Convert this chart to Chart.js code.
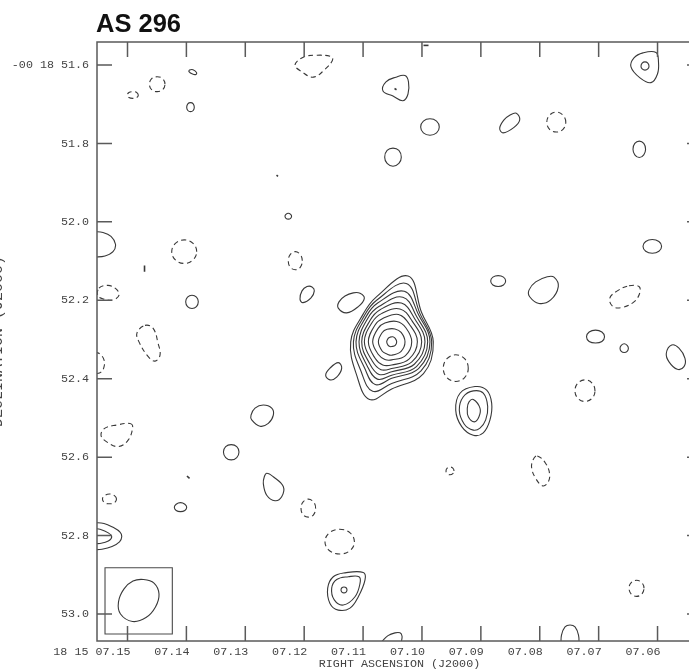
<!DOCTYPE html>
<html><head><meta charset="utf-8">
<script src="https://cdn.jsdelivr.net/npm/chart.js@4/dist/chart.umd.min.js"></script>
<style>html,body{margin:0;padding:0;background:#fff;overflow:hidden;width:689px;height:671px}canvas{display:block}</style>
</head><body>
<canvas id="c" width="712" height="671"></canvas>
<script>
// ---------- text ----------
const chartTitle = 'AS 296';
const xAxisTitle = 'RIGHT ASCENSION (J2000)';
const yAxisTitle = 'DECLINATION (J2000)';

// ---------- axes (RA in seconds of time after 18h15m, Dec in arcsec after -00d18m) ----------
const raTicks  = [7.15, 7.14, 7.13, 7.12, 7.11, 7.10, 7.09, 7.08, 7.07, 7.06];
const raLabels = ['18 15 07.15', '07.14', '07.13', '07.12', '07.11', '07.10', '07.09', '07.08', '07.07', '07.06'];
const decTicks  = [51.6, 51.8, 52.0, 52.2, 52.4, 52.6, 52.8, 53.0];
const decLabels = ['-00 18 51.6', '51.8', '52.0', '52.2', '52.4', '52.6', '52.8', '53.0'];
const raRange  = [7.05245, 7.15518];
const decRange = [51.54135, 53.0688];

// ---------- contours: vertices [RA s, Dec arcsec] ----------
// main source, 10 nested closed contours (inner -> outer)
const mainSource = [
  [[7.10429,52.306],[7.10454,52.297],[7.10494,52.293],[7.10543,52.294],[7.10574,52.297],[7.10599,52.306],[7.10574,52.315],[7.10544,52.318],[7.10514,52.318],[7.10454,52.315]],
  [[7.10288,52.306],[7.10354,52.282],[7.10459,52.273],[7.10591,52.274],[7.10674,52.282],[7.10740,52.306],[7.10674,52.330],[7.10595,52.337],[7.10514,52.340],[7.10354,52.330]],
  [[7.10174,52.306],[7.10274,52.270],[7.10428,52.254],[7.10630,52.258],[7.10742,52.271],[7.10837,52.306],[7.10736,52.339],[7.10630,52.351],[7.10514,52.352],[7.10280,52.341]],
  [[7.10078,52.306],[7.10214,52.261],[7.10399,52.236],[7.10659,52.246],[7.10796,52.263],[7.10910,52.306],[7.10796,52.348],[7.10666,52.365],[7.10514,52.365],[7.10220,52.350]],
  [[7.10005,52.306],[7.10166,52.253],[7.10374,52.222],[7.10688,52.234],[7.10844,52.256],[7.10978,52.306],[7.10844,52.355],[7.10697,52.377],[7.10514,52.374],[7.10172,52.357]],
  [[7.09949,52.306],[7.10124,52.247],[7.10350,52.207],[7.10711,52.224],[7.10880,52.251],[7.11023,52.306],[7.10886,52.362],[7.10727,52.389],[7.10514,52.382],[7.10130,52.363]],
  [[7.09903,52.306],[7.10088,52.242],[7.10325,52.192],[7.10732,52.216],[7.10916,52.245],[7.11069,52.306],[7.10928,52.368],[7.10757,52.401],[7.10514,52.391],[7.10094,52.369]],
  [[7.09864,52.306],[7.10058,52.237],[7.10300,52.177],[7.10752,52.207],[7.10946,52.241],[7.11120,52.306],[7.10970,52.374],[7.10794,52.415],[7.10514,52.399],[7.10058,52.374]],
  [[7.09835,52.306],[7.10034,52.234],[7.10268,52.157],[7.10770,52.200],[7.10970,52.237],[7.11164,52.306],[7.11030,52.383],[7.10837,52.432],[7.10514,52.412],[7.10016,52.380]],
  [[7.09808,52.306],[7.10010,52.230],[7.10236,52.138],[7.10787,52.193],[7.10994,52.234],[7.11210,52.306],[7.11102,52.394],[7.10890,52.453],[7.10514,52.426],[7.09974,52.387]]
];
// second source (3 contours) and compact source (3 contours)
const secondSource = [
  [[7.09099,52.420],[7.08901,52.429],[7.08816,52.463],[7.08845,52.505],[7.08959,52.538],[7.09128,52.544],[7.09325,52.522],[7.09427,52.480],[7.09354,52.437]],
  [[7.09128,52.431],[7.08959,52.437],[7.08884,52.471],[7.08918,52.505],[7.09015,52.526],[7.09128,52.531],[7.09281,52.516],[7.09366,52.480],[7.09298,52.446]],
  [[7.09128,52.453],[7.09015,52.475],[7.09032,52.497],[7.09111,52.510],[7.09213,52.497],[7.09230,52.475],[7.09201,52.459]]
];
const compactSource = [
  [[7.10996,52.894],[7.10967,52.913],[7.11081,52.956],[7.11222,52.985],[7.11421,52.990],[7.11562,52.973],[7.11601,52.934],[7.11506,52.905],[7.11307,52.895]],
  [[7.11069,52.905],[7.11052,52.922],[7.11137,52.956],[7.11336,52.977],[7.11489,52.964],[7.11533,52.934],[7.11448,52.912],[7.11251,52.905]],
  [[7.11273,52.939],[7.11288,52.933],[7.11324,52.931],[7.11360,52.933],[7.11375,52.939],[7.11360,52.944],[7.11324,52.946],[7.11288,52.944]]
];
// other positive (solid) closed contours
const positiveContours = [
  [[7.10441,51.631],[7.10288,51.627],[7.10229,51.643],[7.10237,51.674],[7.10322,51.691],[7.10492,51.679],[7.10662,51.666],[7.10611,51.643]],
  [[7.09706,51.758],[7.09752,51.743],[7.09864,51.737],[7.09976,51.743],[7.10022,51.758],[7.09976,51.773],[7.09864,51.779],[7.09752,51.773]],
  [[7.10351,51.835],[7.10392,51.818],[7.10492,51.812],[7.10592,51.818],[7.10633,51.835],[7.10592,51.851],[7.10492,51.858],[7.10392,51.851]],
  [[7.08398,51.723],[7.08340,51.740],[7.08437,51.759],[7.08624,51.773],[7.08680,51.761],[7.08607,51.740],[7.08510,51.728]],
  [[7.06203,51.815],[7.06234,51.800],[7.06310,51.794],[7.06386,51.800],[7.06417,51.815],[7.06386,51.829],[7.06310,51.836],[7.06234,51.829]],
  [[7.06247,51.569],[7.06026,51.568],[7.05984,51.592],[7.06001,51.623],[7.06111,51.645],[7.06298,51.633],[7.06451,51.605],[7.06400,51.582]],
  [[7.06145,51.603],[7.06165,51.595],[7.06213,51.592],[7.06261,51.595],[7.06281,51.603],[7.06261,51.610],[7.06213,51.613],[7.06165,51.610]],
  [[7.05931,52.062],[7.05977,52.050],[7.06089,52.045],[7.06201,52.050],[7.06247,52.062],[7.06201,52.075],[7.06089,52.080],[7.05977,52.075]],
  [[7.08579,52.151],[7.08616,52.141],[7.08706,52.137],[7.08796,52.141],[7.08833,52.151],[7.08796,52.161],[7.08706,52.165],[7.08616,52.161]],
  [[7.07872,52.140],[7.07758,52.141],[7.07685,52.165],[7.07814,52.199],[7.08013,52.208],[7.08171,52.191],[7.08183,52.174],[7.08069,52.153]],
  [[7.06900,52.293],[7.06945,52.281],[7.07053,52.276],[7.07161,52.281],[7.07206,52.293],[7.07161,52.305],[7.07053,52.309],[7.06945,52.305]],
  [[7.06495,52.322],[7.06516,52.315],[7.06566,52.311],[7.06616,52.315],[7.06637,52.322],[7.06616,52.330],[7.06566,52.333],[7.06516,52.330]],
  [[7.05759,52.314],[7.05636,52.322],[7.05534,52.348],[7.05551,52.369],[7.05664,52.376],[7.05805,52.357],[7.05851,52.335]],
  [[7.13947,51.613],[7.13888,51.612],[7.13828,51.619],[7.13837,51.624],[7.13896,51.623],[7.13956,51.617]],
  [[7.13866,51.708],[7.13884,51.699],[7.13930,51.696],[7.13976,51.699],[7.13995,51.708],[7.13976,51.716],[7.13930,51.719],[7.13884,51.716]],
  [[7.12214,51.986],[7.12230,51.981],[7.12270,51.978],[7.12310,51.981],[7.12326,51.986],[7.12310,51.991],[7.12270,51.993],[7.12230,51.991]],
  [[7.13798,52.204],[7.13829,52.192],[7.13905,52.187],[7.13981,52.192],[7.14012,52.204],[7.13981,52.216],[7.13905,52.221],[7.13829,52.216]],
  [[7.12694,52.467],[7.12551,52.475],[7.12524,52.493],[7.12609,52.514],[7.12750,52.521],[7.12891,52.505],[7.12903,52.493],[7.12835,52.475]],
  [[7.13107,52.587],[7.13145,52.573],[7.13239,52.568],[7.13333,52.573],[7.13371,52.587],[7.13333,52.601],[7.13239,52.607],[7.13145,52.601]],
  [[7.12636,52.641],[7.12524,52.650],[7.12355,52.675],[7.12382,52.701],[7.12495,52.711],[7.12636,52.697],[7.12694,52.667],[7.12677,52.650]],
  [[7.13995,52.728],[7.14026,52.720],[7.14100,52.716],[7.14174,52.720],[7.14205,52.728],[7.14174,52.736],[7.14100,52.739],[7.14026,52.736]],
  [[7.11952,52.165],[7.11867,52.166],[7.11828,52.176],[7.11884,52.194],[7.12020,52.206],[7.12071,52.197],[7.12037,52.176]],
  [[7.11166,52.181],[7.11052,52.182],[7.10979,52.195],[7.11081,52.216],[7.11278,52.232],[7.11421,52.220],[7.11409,52.204],[7.11307,52.189]],
  [[7.11421,52.359],[7.11363,52.373],[7.11448,52.396],[7.11562,52.403],[7.11635,52.391],[7.11562,52.373]]
];
// negative (dashed) closed contours
const negativeContours = [
  [[7.12156,51.600],[7.12015,51.580],[7.11787,51.575],[7.11533,51.579],[7.11523,51.589],[7.11646,51.611],[7.11845,51.631],[7.12042,51.617]],
  [[7.07558,51.746],[7.07605,51.728],[7.07719,51.720],[7.07833,51.728],[7.07880,51.746],[7.07833,51.764],[7.07719,51.771],[7.07605,51.764]],
  [[7.06485,52.163],[7.06315,52.165],[7.06303,52.182],[7.06400,52.204],[7.06598,52.218],[7.06756,52.216],[7.06812,52.195],[7.06683,52.176]],
  [[7.07062,52.431],[7.07112,52.411],[7.07232,52.403],[7.07352,52.411],[7.07402,52.431],[7.07352,52.450],[7.07232,52.458],[7.07112,52.450]],
  [[7.08042,52.597],[7.07899,52.616],[7.07831,52.646],[7.07872,52.667],[7.07957,52.673],[7.08069,52.654],[7.08137,52.628],[7.08115,52.607]],
  [[7.06230,52.934],[7.06267,52.920],[7.06357,52.914],[7.06447,52.920],[7.06484,52.934],[7.06447,52.949],[7.06357,52.955],[7.06267,52.949]],
  [[7.14364,51.649],[7.14402,51.635],[7.14496,51.630],[7.14590,51.635],[7.14628,51.649],[7.14590,51.663],[7.14496,51.668],[7.14402,51.663]],
  [[7.14817,51.677],[7.14844,51.670],[7.14910,51.668],[7.14976,51.670],[7.15003,51.677],[7.14976,51.683],[7.14910,51.685],[7.14844,51.683]],
  [[7.13825,52.076],[7.13887,52.055],[7.14037,52.046],[7.14187,52.055],[7.14249,52.076],[7.14187,52.097],[7.14037,52.106],[7.13887,52.097]],
  [[7.15484,52.169],[7.15331,52.162],[7.15195,52.171],[7.15144,52.187],[7.15246,52.199],[7.15399,52.197],[7.15501,52.189]],
  [[7.14703,52.264],[7.14567,52.271],[7.14482,52.309],[7.14448,52.340],[7.14533,52.355],[7.14652,52.343],[7.14805,52.306],[7.14839,52.283]],
  [[7.14958,52.514],[7.14912,52.522],[7.14986,52.556],[7.15156,52.573],[7.15353,52.561],[7.15450,52.544],[7.15382,52.526],[7.15183,52.518]],
  [[7.15187,52.707],[7.15222,52.698],[7.15306,52.694],[7.15390,52.698],[7.15425,52.707],[7.15390,52.716],[7.15306,52.719],[7.15222,52.716]],
  [[7.12032,52.099],[7.12067,52.083],[7.12151,52.076],[7.12235,52.083],[7.12270,52.099],[7.12235,52.116],[7.12151,52.122],[7.12067,52.116]],
  [[7.09214,52.373],[7.09276,52.349],[7.09426,52.339],[7.09576,52.349],[7.09638,52.373],[7.09576,52.397],[7.09426,52.407],[7.09276,52.397]],
  [[7.09456,52.635],[7.09476,52.628],[7.09524,52.625],[7.09572,52.628],[7.09592,52.635],[7.09572,52.642],[7.09524,52.645],[7.09476,52.642]],
  [[7.11806,52.730],[7.11842,52.714],[7.11930,52.707],[7.12018,52.714],[7.12054,52.730],[7.12018,52.747],[7.11930,52.753],[7.11842,52.747]],
  [[7.11147,52.816],[7.11220,52.793],[7.11397,52.784],[7.11574,52.793],[7.11647,52.816],[7.11574,52.838],[7.11397,52.847],[7.11220,52.838]]
];
// contours cut by the map edge (open paths)
const positiveEdgeArcs = [
  [[7.07639,53.079],[7.07631,53.054],[7.07571,53.033],[7.07486,53.028],[7.07401,53.033],[7.07342,53.054],[7.07333,53.079]],
  [[7.15569,52.025],[7.15416,52.027],[7.15280,52.037],[7.15204,52.057],[7.15246,52.076],[7.15382,52.087],[7.15569,52.090]],
  [[7.15569,52.767],[7.15399,52.769],[7.15246,52.779],[7.15127,52.791],[7.15098,52.803],[7.15136,52.816],[7.15263,52.828],[7.15433,52.835],[7.15569,52.836]],
  [[7.15569,52.782],[7.15467,52.784],[7.15326,52.793],[7.15268,52.803],[7.15326,52.814],[7.15467,52.820],[7.15569,52.820]],
  [[7.10679,53.070],[7.10577,53.055],[7.10458,53.048],[7.10373,53.048],[7.10339,53.056],[7.10348,53.070]]
];
const negativeEdgeArcs = [
  [[7.15552,52.332],[7.15467,52.337],[7.15399,52.352],[7.15399,52.370],[7.15450,52.383],[7.15552,52.388]]
];
// tiny contour specks
const specks = [
  [[7.10466,51.660],[7.10432,51.663]],
  [[7.12470,51.881],[7.12444,51.884]],
  [[7.14711,52.111],[7.14711,52.127]],
  [[7.13990,52.648],[7.13947,52.654]],
  [[7.09974,51.550],[7.09889,51.550]]
];
// restoring beam and its box
const beamEllipse = [[7.14728,52.912],[7.14550,52.921],[7.14465,52.949],[7.14525,52.982],[7.14686,53.009],[7.14915,53.019],[7.15119,53.000],[7.15153,52.969],[7.15059,52.936],[7.14907,52.916]];
const beamBox = [[7.15382,52.882],[7.14239,52.882],[7.14239,53.051],[7.15382,53.051]];

// ---------- build datasets ----------
const INK = '#383838';
const datasets = [];
function add(list, style) {
  list.forEach(pts => datasets.push(Object.assign({
    data: pts.map(p => ({x: p[0], y: p[1]})),
    borderColor: INK, borderWidth: 1.1, pointRadius: 0, pointHoverRadius: 0,
    fill: false, tension: 0.4, spanGaps: true, closed: true
  }, style)));
}
add(mainSource, {});
add(secondSource, {});
add(compactSource, {});
add(positiveContours, {});
add(negativeContours, {borderDash: [5, 3.5]});
add(positiveEdgeArcs, {closed: false});
add(negativeEdgeArcs, {closed: false, borderDash: [5, 3.5]});
add(specks, {closed: false, tension: 0, borderWidth: 1.6});
add([beamEllipse], {});
add([beamBox], {tension: 0, borderColor: '#4a4a4a'});

const closeLoops = {
  id: 'closeLoops',
  afterDatasetsUpdate(chart) {
    chart.data.datasets.forEach((ds, i) => {
      if (!ds.closed) return;
      const line = chart.getDatasetMeta(i).dataset;
      if (!line) return;
      line._loop = true; line._fullLoop = true;
      line._segments = undefined; line._path = undefined; line._pointsUpdated = false;
    });
  }
};

const frame = {
  id: 'frame',
  afterDraw(chart) {
    const ctx = chart.ctx, a = chart.chartArea, xs = chart.scales.x, ys = chart.scales.y;
    const L = 15;
    ctx.save();
    ctx.strokeStyle = '#5a5a5a'; ctx.lineWidth = 1.5;
    ctx.strokeRect(a.left, a.top, a.right - a.left, a.bottom - a.top);
    ctx.beginPath();
    raTicks.forEach(v => {
      const px = xs.getPixelForValue(v);
      ctx.moveTo(px, a.top); ctx.lineTo(px, a.top + L);
      ctx.moveTo(px, a.bottom); ctx.lineTo(px, a.bottom - L);
    });
    decTicks.forEach(v => {
      const py = ys.getPixelForValue(v);
      ctx.moveTo(a.left, py); ctx.lineTo(a.left + L, py);
      ctx.moveTo(a.right, py); ctx.lineTo(a.right - L, py);
    });
    ctx.stroke();
    // chart title
    ctx.fillStyle = '#111';
    ctx.font = 'bold 25.5px "Liberation Sans", Arial, sans-serif';
    ctx.textAlign = 'left'; ctx.textBaseline = 'alphabetic';
    ctx.fillText(chartTitle, a.left - 1, 31.5);
    // y axis title (cut by the page edge as in the original)
    ctx.translate(1.5, (a.top + a.bottom) / 2);
    ctx.rotate(-Math.PI / 2);
    ctx.fillStyle = '#444';
    ctx.font = '15px "Liberation Mono", monospace';
    ctx.textAlign = 'center';
    ctx.fillText(yAxisTitle, 0, 0);
    ctx.restore();
  }
};

const monoFont = {family: '"Liberation Mono", "DejaVu Sans Mono", monospace', size: 11.7};

new Chart(document.getElementById('c'), {
  type: 'line',
  data: {datasets},
  options: {
    responsive: false, animation: false, events: [],
    elements: {line: {capBezierPoints: false}},
    layout: {padding: {top: 42, right: 10, bottom: 0, left: 0}, autoPadding: false},
    plugins: {legend: {display: false}, tooltip: {enabled: false}, title: {display: false}},
    scales: {
      x: {
        type: 'linear', reverse: true, min: raRange[0], max: raRange[1],
        grid: {display: false, drawTicks: false, tickLength: 0},
        border: {display: false},
        afterBuildTicks: s => { s.ticks = raTicks.map(v => ({value: v})); },
        afterFit: s => { s.height = 30; },
        ticks: {
          autoSkip: false, maxRotation: 0, minRotation: 0, padding: 4, color: '#444', font: monoFont,
          align: 'end', labelOffset: 3,
          callback: v => raLabels[raTicks.indexOf(v)]
        },
        title: {display: true, text: xAxisTitle, color: '#444', font: monoFont, padding: {top: 0, bottom: 0}}
      },
      y: {
        type: 'linear', reverse: true, min: decRange[0], max: decRange[1],
        grid: {display: false, drawTicks: false, tickLength: 0},
        border: {display: false},
        afterBuildTicks: s => { s.ticks = decTicks.map(v => ({value: v})); },
        afterFit: s => { s.width = 97; },
        ticks: {
          autoSkip: false, padding: 8, color: '#444', font: monoFont,
          callback: v => decLabels[decTicks.indexOf(v)]
        }
      }
    }
  },
  plugins: [closeLoops, frame]
});
</script>
</body></html>
